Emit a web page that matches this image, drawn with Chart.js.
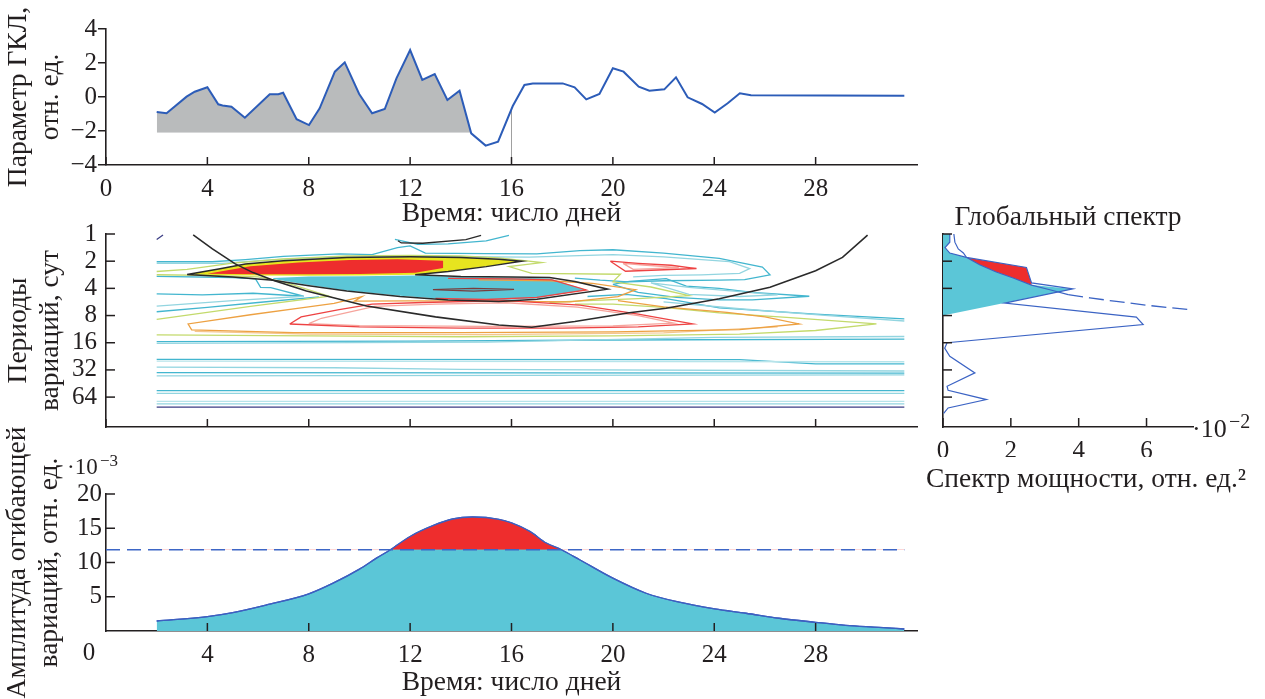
<!DOCTYPE html>
<html><head><meta charset="utf-8">
<script src="https://cdn.jsdelivr.net/npm/chart.js@4.4.1/dist/chart.umd.min.js"></script>
<style>
html,body{margin:0;padding:0;background:#fff;}
#wrap{position:relative;width:1265px;height:699px;overflow:hidden;background:#fff;}
canvas{position:absolute;left:0;top:0;}
</style></head><body>
<div id="wrap">
<canvas id="cTop" width="1265" height="699"></canvas>
<canvas id="cMid" width="1265" height="699"></canvas>
<canvas id="cSpec" width="1265" height="699"></canvas>
<canvas id="cBot" width="1265" height="699"></canvas>
</div>
<script>
// ---------------- DATA ----------------
// Top panel: GCR parameter vs day
const gclX = [2.0,2.39,3.18,3.5,4.0,4.43,4.6,4.95,5.48,6.46,6.8,6.99,7.52,8.01,8.43,9.03,9.42,9.99,10.5,11.0,11.46,12.0,12.48,12.97,13.47,13.95,14.41,14.98,15.47,16.05,16.51,16.84,18.02,18.49,18.95,19.47,20.0,20.42,21.02,21.44,22.03,22.49,22.95,23.52,24.02,24.53,25.01,25.45,31.5];
const gclY = [-0.88,-0.96,0.02,0.31,0.57,-0.43,-0.5,-0.57,-1.22,0.16,0.16,0.25,-1.31,-1.65,-0.67,1.49,2.04,0.18,-0.96,-0.71,1.1,2.76,1.0,1.35,-0.18,0.37,-2.14,-2.86,-2.63,-0.53,0.71,0.8,0.8,0.57,-0.14,0.18,1.69,1.49,0.61,0.37,0.45,1.16,-0.02,-0.41,-0.92,-0.37,0.22,0.1,0.08];
const gclFillBase = -2.1;      // level of the grey shading
const gclFillEndX = 14.41;     // shading ends here
const gclMarkX = 16;           // vertical marker
const gclMarkTop = -0.62;
const dayTicks = [0,4,8,12,16,20,24,28];
const gclTicks = [-4,-2,0,2,4];

// Middle panel: wavelet contours, [day, log2(period)]
const periodLabels = [1,2,4,8,16,32,64];
const ctrYellow = [[3.2,1.49],[4.5,1.28],[5.5,1.1],[7,0.98],[9.5,0.86],[12,0.84],[14,0.86],[15.5,0.93],[16.4,1.0],[15,1.2],[13.5,1.38],[12.2,1.5],[10,1.53],[8,1.54],[6,1.53],[4.5,1.52],[3.2,1.49]];
const ctrRed = [[4.0,1.46],[5.7,1.19],[7.6,1.05],[9.6,0.96],[11.5,0.93],[13.3,0.98],[13.3,1.25],[12.2,1.43],[10,1.47],[8,1.48],[6,1.48],[4.0,1.46]];
const ctrCyan = [[6.6,1.62],[8,1.56],[10,1.55],[12.2,1.53],[14,1.58],[16,1.6],[17.5,1.64],[18.95,2.05],[17,2.36],[15.5,2.44],[13.5,2.4],[11.6,2.27],[9.5,2.08],[8,1.88],[6.6,1.66],[6.6,1.62]];
const ctrMainEdge = [[3.2,1.49],[4.5,1.28],[5.5,1.1],[7,0.98],[9.5,0.86],[12,0.84],[14,0.86],[15.5,0.93],[16.4,1.0],[15,1.2],[13.5,1.38],[12.2,1.5],[14,1.56],[16,1.58],[17.5,1.6],[18.5,1.75],[19.8,2.03],[17,2.4],[15.5,2.48],[13.5,2.43],[11.6,2.3],[9.5,2.1],[8,1.9],[6.6,1.7],[5,1.58],[3.2,1.49]];
const ctrLens = [[12.9,2.05],[14.5,2.0],[16.1,2.04],[14.5,2.1],[12.9,2.05]];
const ctrRedCore = [[13.5,1.63],[16,1.65],[17.6,1.69],[18.95,2.06],[17,2.33],[15,2.41],[13,2.37]];
const ctrTopArcBlack = [[11.52,0.25],[11.65,0.33],[12.5,0.34],[14.2,0.21],[14.8,0.05]];
const ctrTopArcCyan = [[11.4,0.2],[12.3,0.38],[13.5,0.36],[15.0,0.25],[15.9,0.05]];
const ctrCornerStub = [[2.0,0.2],[2.25,0.04]];
const ctrCyanUpper = [[2,1.02],[4.2,1.02],[5.5,0.94],[7,0.82],[9.2,0.73],[10.5,0.76],[11.5,0.5],[12,0.44],[12.6,0.7],[15,0.72],[17,0.73],[18.7,0.61],[20,0.58],[22,0.7],[24.2,0.9],[25.9,1.22],[26.2,1.5],[25.2,1.68],[24.2,1.7],[22,1.72],[20.6,1.76],[19.5,1.7],[18.5,1.62]];
const ctrLightCyanUpper = [[2,1.08],[4.6,1.08],[6,0.98],[8,0.88],[10,0.84],[12.5,0.82],[15,0.84],[16.7,0.85],[20,0.76],[22,0.84],[24.6,1.02],[25.4,1.27],[25.0,1.45],[23.5,1.5],[22,1.52],[20.8,1.58]];
const ctrRedSmall = [[19.9,1.0],[20.5,1.37],[23.3,1.27],[22.3,1.15],[21,1.08],[19.9,1.0]];
const ctrPinkSmall = [[20.4,1.08],[20.8,1.3],[22.6,1.24],[21.2,1.14],[20.4,1.08]];
const ctrGreenUpper = [[2,1.38],[3.2,1.3],[5,1.07],[7,0.92],[9.5,0.81],[12,0.79],[14,0.81],[15.5,0.88],[17.2,1.05],[15.9,1.2],[16.8,1.45],[20.3,1.48],[20.0,1.76],[21.5,1.95],[23.0,2.27],[21,2.38],[19,2.45],[17.5,2.52]];
const ctrGreenLeft = [[2,1.5],[4,1.52],[6,1.58],[7,1.76],[8.8,2.29],[5.7,2.66],[2,3.14]];
const ctrGreenBig = [[2,3.71],[8,3.75],[14,3.78],[20,3.75],[25,3.68],[28,3.55],[30.4,3.31],[27,3.08],[24.2,2.9],[22,2.7],[20,2.58],[18.5,2.58]];
const ctrCyanWedge = [[2,1.56],[5,1.6],[5.9,1.65],[6.1,1.96],[6.5,1.97],[7.8,2.29],[5.8,2.18],[3.8,2.24],[2,2.2]];
const ctrLightCyanWedge = [[2,2.65],[5,2.45],[7.8,2.29]];
const ctrCyanLowLeft = [[2,2.86],[4,2.7],[6,2.52],[8.4,2.31]];
const ctrOrange = [[14.7,1.69],[17.5,1.72],[19.2,1.82],[20.9,2.05],[20.2,2.3],[18.3,2.5],[15,2.47],[12,2.46],[9.8,2.47],[10.1,2.3],[9.0,2.55],[7.7,2.72],[5.7,2.97],[3.24,3.31],[3.38,3.53],[7.4,3.63],[14,3.63],[20,3.6],[25,3.52],[27.35,3.31],[26,3.05],[24.5,2.88],[22,2.68],[20.2,2.45]];
const ctrOrangeLight = [[3.5,3.58],[8,3.68],[15,3.7],[22,3.64],[26.5,3.42]];
const ctrRedLoop = [[7.25,3.31],[7.7,3.05],[9.2,2.78],[10.5,2.58],[12.5,2.52],[15.8,2.45],[18.7,2.62],[21,2.95],[23.15,3.31],[21,3.42],[18,3.46],[14,3.46],[10,3.42],[7.25,3.31]];
const ctrPinkLoop = [[8.0,3.3],[8.5,3.1],[10.6,2.66],[13,2.58],[15.8,2.53],[18.6,2.69],[21,3.0],[22.4,3.28],[20,3.38],[15,3.4],[10,3.37],[8.0,3.3]];
const ctrCyanLoopR = [[20.0,1.85],[20.65,1.74],[22.1,1.64],[22.9,1.92],[24.2,2.0],[25.5,2.15],[27.75,2.29],[25.5,2.42],[24.2,2.42],[22.5,2.33],[21,2.15],[20.0,1.85]];
const ctrLightCyanLoopR = [[21.5,1.8],[23,1.96],[25,2.12],[26.5,2.24],[25,2.3],[23,2.22],[21.5,1.8]];
const ctrCyanRightOpen = [[19,2.3],[20.5,2.22],[22.1,2.38],[24.2,2.72],[28,2.95],[31.5,3.12]];
const ctrLightCyanRightOpen = [[22,2.5],[25,2.75],[28.5,3.0],[31.5,3.2]];
const ctrH1 = [[2,3.96],[12,3.94],[20,3.9],[31.5,3.87]];
const ctrH2 = [[2,4.02],[15,3.98],[24,3.8],[31.5,3.77]];
const ctrH3 = [[2,4.61],[25,4.62],[28,4.78],[31.5,4.78]];
const ctrH4 = [[2,4.68],[31.5,4.7]];
const ctrH5 = [[2,4.9],[9,4.92],[14,4.98],[31.5,5.04]];
const ctrH6 = [[2,5.1],[31.5,5.12]];
const ctrH7 = [[2,5.22],[31.5,5.18]];
const ctrH8 = [[2,5.76],[31.5,5.76]];
const ctrH9 = [[2,5.86],[31.5,5.86]];
const ctrH10 = [[2,6.16],[31.5,6.16]];
const ctrH11 = [[2,6.25],[31.5,6.25]];
const ctrH12 = [[2,6.37],[31.5,6.37]];
const coneOfInfluence = [[3.44,0.03],[4.2,0.55],[5.1,1.1],[5.8,1.42],[6.65,1.72],[7.91,2.1],[10.28,2.65],[13,3.05],[15.5,3.35],[16.8,3.43],[18.5,3.22],[20.65,2.9],[22.1,2.73],[24.2,2.38],[26.2,1.96],[28.0,1.35],[29.06,0.86],[30.05,0.04]];

// Right panel: global spectrum, [power x1e-2, log2(period)]
const specLine = [[0.2,0.0],[0.2,0.3],[0.06,0.5],[0.2,0.7],[0.69,0.86],[2.46,1.23],[2.61,1.8],[3.83,2.02],[1.82,2.54],[5.7,3.06],[5.9,3.33],[0.12,4.0],[0.05,4.2],[0.2,4.5],[0.94,5.11],[0.12,5.6],[0.15,5.75],[1.28,6.09],[0.15,6.4],[0.02,6.6]];
const specSignif = [[0.32,0.0],[0.35,0.3],[0.45,0.55],[0.6,0.7],[0.69,0.86],[1.08,1.13],[1.57,1.4],[2.07,1.62],[2.61,1.88],[3.15,2.05],[3.69,2.23],[4.33,2.35],[5.11,2.48],[6.0,2.62],[7.23,2.78]];
const specSolidCount = 11;   // first points of significance curve drawn solid
const specCyanArea = [[0,0],[0.2,0],[0.2,0.3],[0.06,0.5],[0.2,0.7],[0.69,0.86],[1.08,1.13],[1.57,1.4],[2.07,1.62],[2.61,1.88],[3.0,1.92],[3.83,2.02],[0,3.0],[0,0]];
const specRedArea = [[0.69,0.86],[2.46,1.23],[2.61,1.8],[2.61,1.88],[2.07,1.62],[1.57,1.4],[1.08,1.13],[0.69,0.86]];
const specTicks = [0,2,4,6];

// Bottom panel: envelope amplitude x1e-3
const envX = [2,4,5,6.33,8,8.96,10,10.67,11.22,12,12.9,13.68,14.47,15.5,16,16.72,17.37,17.97,18.69,20,21.31,22.62,24.02,25.25,26.56,28,29.19,30.5,31.5];
const envY = [1.46,2.1,2.68,3.8,5.42,6.98,9.03,10.64,11.86,13.8,15.37,16.35,16.64,16.3,15.77,14.54,12.84,11.86,10.4,7.71,5.51,4.2,3.22,2.59,1.86,1.27,0.83,0.54,0.29];
const envThreshold = 11.86;
const envTicks = [5,10,15,20];

// ---------------- RENDERING ----------------
const FONT = "'Liberation Serif','Times New Roman',serif";
const INK = '#231f20';
Chart.defaults.font.family = FONT;
Chart.defaults.color = INK;

const pts = a => a.map(p => ({x:p[0], y:p[1]}));
const setTicks = vals => s => { s.ticks = vals.map(v => ({value:v})); };

const inTicks = {
  id:'inTicks',
  afterDatasetsDraw(chart, args, opts) {
    const ctx = chart.ctx;
    ctx.save();
    ctx.strokeStyle = INK; ctx.lineWidth = 1.5;
    for (const [id, len] of Object.entries(opts.scales || {})) {
      const s = chart.scales[id];
      for (const t of s.ticks) {
        const p = s.getPixelForValue(t.value);
        ctx.beginPath();
        if (s.isHorizontal()) { ctx.moveTo(p, s.top); ctx.lineTo(p, s.top - len); }
        else { ctx.moveTo(s.right, p); ctx.lineTo(s.right + len, p); }
        ctx.stroke();
      }
    }
    ctx.restore();
  }
};
const texts = {
  id:'texts',
  afterDraw(chart, args, opts) {
    const ctx = chart.ctx;
    ctx.save();
    ctx.fillStyle = INK;
    for (const t of opts.items || []) {
      ctx.font = t.size + 'px ' + FONT;
      ctx.textAlign = t.align || 'left';
      ctx.textBaseline = t.base || 'alphabetic';
      ctx.fillText(t.text, t.x, t.y);
    }
    ctx.restore();
  }
};

const base = { responsive:false, devicePixelRatio:1, animation:false, events:[],
  plugins:{legend:{display:false}, tooltip:{enabled:false}} };
const tickFont = {size:25};
const titleFont = {size:27.5, lineHeight:1.16};
const xTitleFont = {size:27.5};
const border = {display:true, color:INK, width:1.6};

// ---- Top chart ----
const gclPts = gclX.map((x,i) => ({x, y:gclY[i]}));
new Chart(document.getElementById('cTop'), {
  type:'scatter',
  data:{datasets:[
    {data:gclPts, showLine:true, borderColor:'#2c5cb8', borderWidth:2, pointRadius:0, fill:false},
    {data:[{x:gclMarkX,y:-4},{x:gclMarkX,y:gclMarkTop}], showLine:true, borderColor:'#a0a0a0', borderWidth:1, pointRadius:0},
    {data:gclPts.filter(p => p.x <= gclFillEndX), showLine:true, borderColor:'rgba(0,0,0,0)', borderWidth:0, pointRadius:0,
     backgroundColor:'#b9bbbc', fill:{target:{value:gclFillBase}, above:'#b9bbbc', below:'rgba(0,0,0,0)'}}
  ]},
  options:{...base,
    layout:{padding:{left:0, top:29, right:348, bottom:469}},
    scales:{
      x:{type:'linear', min:0, max:32, afterBuildTicks:setTicks(dayTicks), afterFit:s=>{s.height=65;},
         ticks:{font:tickFont, color:INK, padding:9, maxRotation:0, autoSkip:false},
         grid:{display:false, drawTicks:false}, border,
         title:{display:true, text:'Время: число дней', font:xTitleFont, color:INK, padding:{top:0,bottom:0}}},
      y:{type:'linear', min:-4, max:4, afterBuildTicks:setTicks(gclTicks), afterFit:s=>{s.width=106;},
         ticks:{font:tickFont, color:INK, padding:1, autoSkip:false, callback:v => v<0 ? '\u2212'+(-v) : String(v)},
         grid:{display:true, drawOnChartArea:false, drawTicks:true, tickLength:8, color:INK, lineWidth:1.5}, border,
         title:{display:true, text:['Параметр ГКЛ,','отн. ед.'], font:titleFont, color:INK, padding:{top:3,bottom:0}}}
    },
    plugins:{...base.plugins, inTicks:{scales:{x:8}}}
  },
  plugins:[inTicks]
});

// ---- Middle chart (contours) ----
const C = {cyan:'#43b6cf', lcyan:'#93d5e0', pcyan:'#b7e4ea', green:'#c3da6c', orange:'#eda142', lorange:'#f4c68e',
           red:'#ee4343', pink:'#f6a49c', navy:'#3b3d85', black:'#2a2a2a'};
const layers = [ // bottom-to-top
  {d:ctrYellow, fill:'#e7e41f'},
  {d:ctrRed, fill:'#ee2d2d'},
  {d:ctrCyan, fill:'#5bc6d7'},
  {d:ctrH1, c:C.cyan}, {d:ctrH2, c:C.lcyan}, {d:ctrH3, c:C.cyan}, {d:ctrH4, c:C.pcyan},
  {d:ctrH5, c:C.lcyan}, {d:ctrH6, c:C.cyan}, {d:ctrH7, c:C.lcyan}, {d:ctrH8, c:C.cyan},
  {d:ctrH9, c:C.lcyan}, {d:ctrH10, c:C.pcyan}, {d:ctrH11, c:C.lcyan}, {d:ctrH12, c:C.navy},
  {d:ctrCyanUpper, c:C.cyan}, {d:ctrLightCyanUpper, c:C.lcyan},
  {d:ctrCyanWedge, c:C.cyan}, {d:ctrLightCyanWedge, c:C.lcyan}, {d:ctrCyanLowLeft, c:C.cyan},
  {d:ctrCyanLoopR, c:C.cyan}, {d:ctrLightCyanLoopR, c:C.lcyan},
  {d:ctrCyanRightOpen, c:C.cyan}, {d:ctrLightCyanRightOpen, c:C.lcyan},
  {d:ctrGreenUpper, c:C.green}, {d:ctrGreenLeft, c:C.green}, {d:ctrGreenBig, c:C.green},
  {d:ctrOrangeLight, c:C.lorange}, {d:ctrOrange, c:C.orange},
  {d:ctrPinkLoop, c:C.pink}, {d:ctrRedLoop, c:C.red},
  {d:ctrPinkSmall, c:C.pink}, {d:ctrRedSmall, c:C.red},
  {d:ctrRedCore, c:C.red},
  {d:ctrTopArcCyan, c:C.cyan}, {d:ctrCornerStub, c:C.navy},
  {d:ctrLens, c:'#7a3b3b'},
  {d:ctrTopArcBlack, c:C.black},
  {d:ctrMainEdge, c:C.black, w:1.5},
  {d:coneOfInfluence, c:C.black, w:1.6}
];
const midSets = layers.map(l => l.fill
  ? {data:pts(l.d), showLine:true, pointRadius:0, borderWidth:0, borderColor:'rgba(0,0,0,0)', backgroundColor:l.fill, fill:'shape'}
  : {data:pts(l.d), showLine:true, pointRadius:0, borderWidth:l.w || 1.3, borderColor:l.c, fill:false}).reverse();
const periodTicks = periodLabels.map(p => Math.log2(p));
new Chart(document.getElementById('cMid'), {
  type:'scatter',
  data:{datasets:midSets},
  options:{...base,
    layout:{padding:{left:0, top:234, right:348, bottom:262}},
    scales:{
      x:{type:'linear', min:0, max:32, afterBuildTicks:setTicks(dayTicks), afterFit:s=>{s.height=10;},
         ticks:{display:false}, grid:{display:false, drawTicks:false}, border},
      y:{type:'linear', min:0, max:7.1, reverse:true, afterBuildTicks:setTicks(periodTicks), afterFit:s=>{s.width=106;},
         ticks:{font:tickFont, color:INK, padding:9, autoSkip:false, callback:v => String(Math.round(Math.pow(2,v)))},
         grid:{display:false, drawTicks:false}, border,
         title:{display:true, text:['Периоды','вариаций, сут'], font:titleFont, color:INK, padding:{top:3,bottom:0}}}
    },
    plugins:{...base.plugins, inTicks:{scales:{x:8, y:9}}}
  },
  plugins:[inTicks]
});

// ---- Spectrum chart ----
const sigPts = pts(specSignif);
new Chart(document.getElementById('cSpec'), {
  type:'scatter',
  data:{datasets:[
    {data:pts(specLine), showLine:true, pointRadius:0, borderColor:'#3b63c4', borderWidth:1.2, fill:false},
    {data:sigPts.slice(0, specSolidCount), showLine:true, pointRadius:0, borderColor:'#3b63c4', borderWidth:1.2, fill:false},
    {data:sigPts.slice(specSolidCount-1), showLine:true, pointRadius:0, borderColor:'#3b63c4', borderWidth:1.3, borderDash:[15,6], fill:false},
    {data:pts(specRedArea), showLine:true, pointRadius:0, borderWidth:0, borderColor:'rgba(0,0,0,0)', backgroundColor:'#ee2d2d', fill:'shape'},
    {data:pts(specCyanArea), showLine:true, pointRadius:0, borderWidth:0, borderColor:'rgba(0,0,0,0)', backgroundColor:'#5bc6d7', fill:'shape'}
  ]},
  options:{...base,
    layout:{padding:{left:943, top:201, right:72, bottom:242}},
    scales:{
      x:{type:'linear', min:0, max:7.37, afterBuildTicks:setTicks(specTicks), afterFit:s=>{s.height=30;},
         ticks:{font:tickFont, color:INK, padding:9, maxRotation:0, autoSkip:false},
         grid:{display:false, drawTicks:false}, border},
      y:{type:'linear', min:0, max:7.1, reverse:true, afterBuildTicks:setTicks(periodTicks), afterFit:s=>{s.width=0;},
         ticks:{display:false, autoSkip:false}, grid:{display:false, drawTicks:false}, border}
    },
    plugins:{...base.plugins,
      title:{display:true, text:'Глобальный спектр', font:{size:27.5, weight:'normal'}, color:INK, padding:{top:0,bottom:0}},
      inTicks:{scales:{x:9, y:9}},
      texts:{items:[
        {text:'\u00B710', x:1192, y:437, size:26},
        {text:'\u22122', x:1229, y:428, size:20},
        {text:'Спектр мощности, отн. ед.\u00B2', x:1086, y:480, size:27.5, align:'center', base:'middle'}
      ]}
    }
  },
  plugins:[inTicks, texts]
});

// ---- Bottom chart ----
const envPts = envX.map((x,i) => ({x, y:envY[i]}));
new Chart(document.getElementById('cBot'), {
  type:'scatter',
  data:{datasets:[
    {data:[{x:0,y:envThreshold},{x:envX[envX.length-1],y:envThreshold}], showLine:true, pointRadius:0, borderColor:'#3d66c6', borderWidth:1.5, borderDash:[14,7], fill:false},
    {data:envPts, showLine:true, pointRadius:0, borderColor:'#3d5fc0', borderWidth:1.3, tension:0.4, cubicInterpolationMode:'monotone',
     backgroundColor:'#ee2d2d', fill:{target:{value:envThreshold}, above:'#ee2d2d', below:'rgba(0,0,0,0)'}},
    {data:envPts, showLine:true, pointRadius:0, borderColor:'#3d5fc0', borderWidth:1.3, tension:0.4, cubicInterpolationMode:'monotone',
     backgroundColor:'#5bc6d7', fill:'origin'}
  ]},
  options:{...base,
    layout:{padding:{left:0, top:494, right:348, bottom:0}},
    scales:{
      x:{type:'linear', min:0, max:32, afterBuildTicks:setTicks(dayTicks.slice(1)), afterFit:s=>{s.height=68;},
         ticks:{font:tickFont, color:INK, padding:9, maxRotation:0, autoSkip:false},
         grid:{display:false, drawTicks:false}, border,
         title:{display:true, text:'Время: число дней', font:xTitleFont, color:INK, padding:{top:0,bottom:0}}},
      y:{type:'linear', min:0, max:20, afterBuildTicks:setTicks(envTicks), afterFit:s=>{s.width=106;},
         ticks:{font:tickFont, color:INK, padding:4, autoSkip:false},
         grid:{display:false, drawTicks:false}, border,
         title:{display:true, text:['Амплитуда огибающей','вариаций, отн. ед.'], font:titleFont, color:INK, padding:{top:2,bottom:0}}}
    },
    plugins:{...base.plugins,
      inTicks:{scales:{x:8, y:9}},
      texts:{items:[
        {text:'0', x:89, y:653, size:25, align:'center', base:'middle'},
        {text:'\u00B710', x:67, y:474, size:23},
        {text:'\u22123', x:100, y:466, size:17}
      ]}
    }
  },
  plugins:[inTicks, texts]
});
</script>
</body></html>
